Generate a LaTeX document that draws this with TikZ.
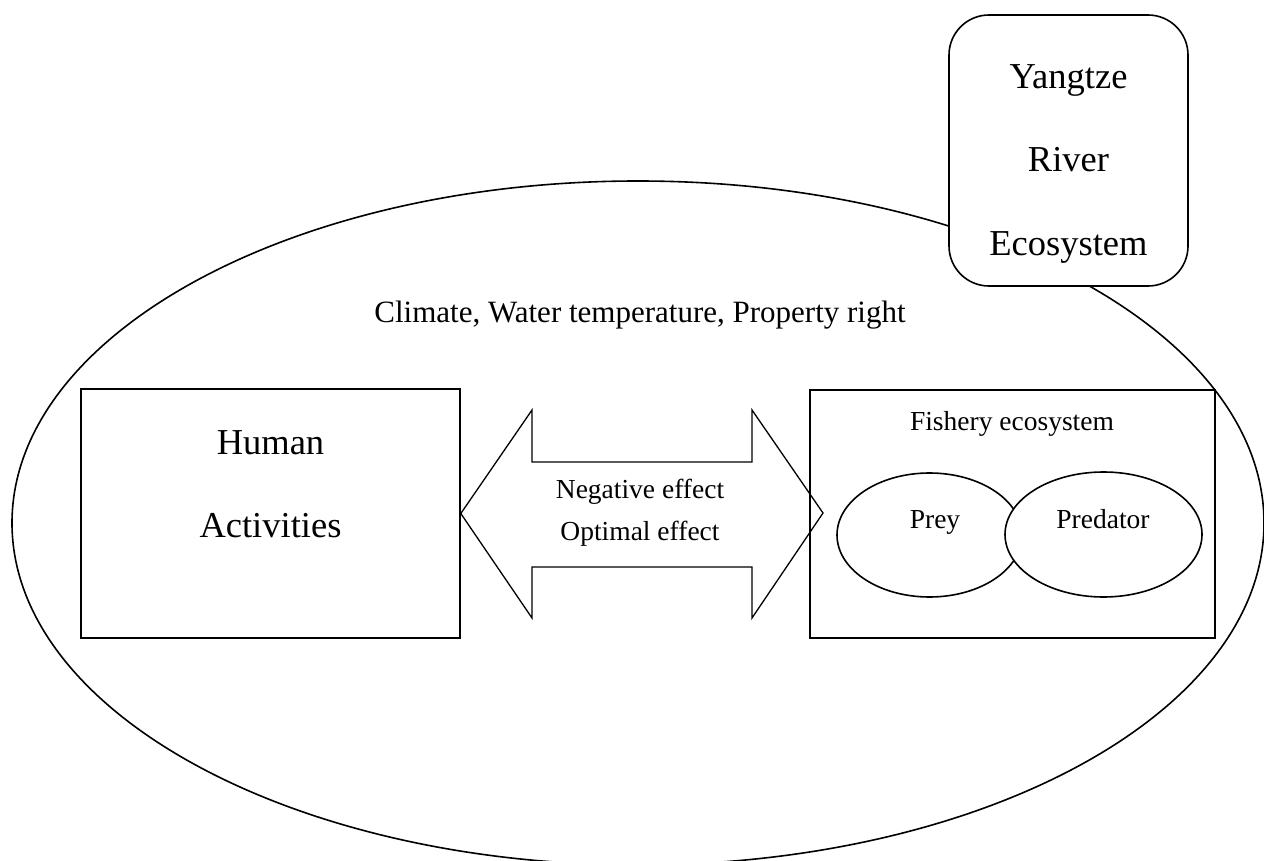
\documentclass[tikz,border=0pt]{standalone}
\usepackage{fontspec}
\setmainfont{Liberation Serif}
\usetikzlibrary{positioning,shapes.geometric}
\tikzset{
  big/.style={font=\fontsize{36.5}{40}\selectfont, inner sep=0pt, anchor=base},
  mid/.style={font=\fontsize{31}{34}\selectfont, inner sep=0pt, anchor=base},
  small/.style={font=\fontsize{27.5}{30}\selectfont, inner sep=0pt, anchor=base},
  ln/.style={line width=1.6pt, draw=black},
  boxx/.style={ln, rectangle, inner sep=0pt},
}
\begin{document}
\begin{tikzpicture}[x=1pt,y=-1pt]
\useasboundingbox (0,0) rectangle (1264,861);
\clip (0,0) rectangle (1264,861);
% outer ellipse
\draw[ln] (638,523) ellipse [x radius=626, y radius=342];
% Yangtze box
\node[boxx, rounded corners=40pt, fill=white, minimum width=239pt, minimum height=271pt] (yr) at (1068.5,150.5) {};
\node[big] (y1) at (1068.5,89) {Yangtze};
\node[big] (y2) at (1068.5,172) {River};
\node[big] (y3) at (1068.5,255) {Ecosystem};
% climate text
\node[mid] (clim) at (640,322) {Climate, Water temperature, Property right};
% human box
\node[boxx, minimum width=379pt, minimum height=249pt] (human) at (270.5,513.5) {};
\node[big] (h1) at (270.5,454) {Human};
\node[big] (h2) at (270.5,537) {Activities};
% fishery box
\node[boxx, minimum width=405pt, minimum height=248pt] (fish) at (1012.5,514) {};
\node[small] (ft) at (1012,430) {Fishery ecosystem};
% prey / predator
\node[ln, ellipse, fill=white, minimum width=185pt, minimum height=124pt, inner sep=0pt] (prey) at (929.5,535) {};
\node[ln, ellipse, fill=white, minimum width=197pt, minimum height=125pt, inner sep=0pt] (pred) at (1103.5,534.5) {};
\node[small] (pt) at (935,528) {Prey};
\node[small] (pdt) at (1103,528) {Predator};
% double arrow
\coordinate (tipL) at (human.east);
\coordinate (tipR) at (823,513);
\draw[line width=1.3pt, line join=miter] (tipL) -- (532,410) -- (532,462) -- (752,462) -- (752,410) -- (tipR)
  -- (752,618) -- (752,567) -- (532,567) -- (532,618) -- cycle;
\node[small] (neg) at (640,498) {Negative effect};
\node[small] (opt) at (640,540) {Optimal effect};
\end{tikzpicture}
\end{document}
